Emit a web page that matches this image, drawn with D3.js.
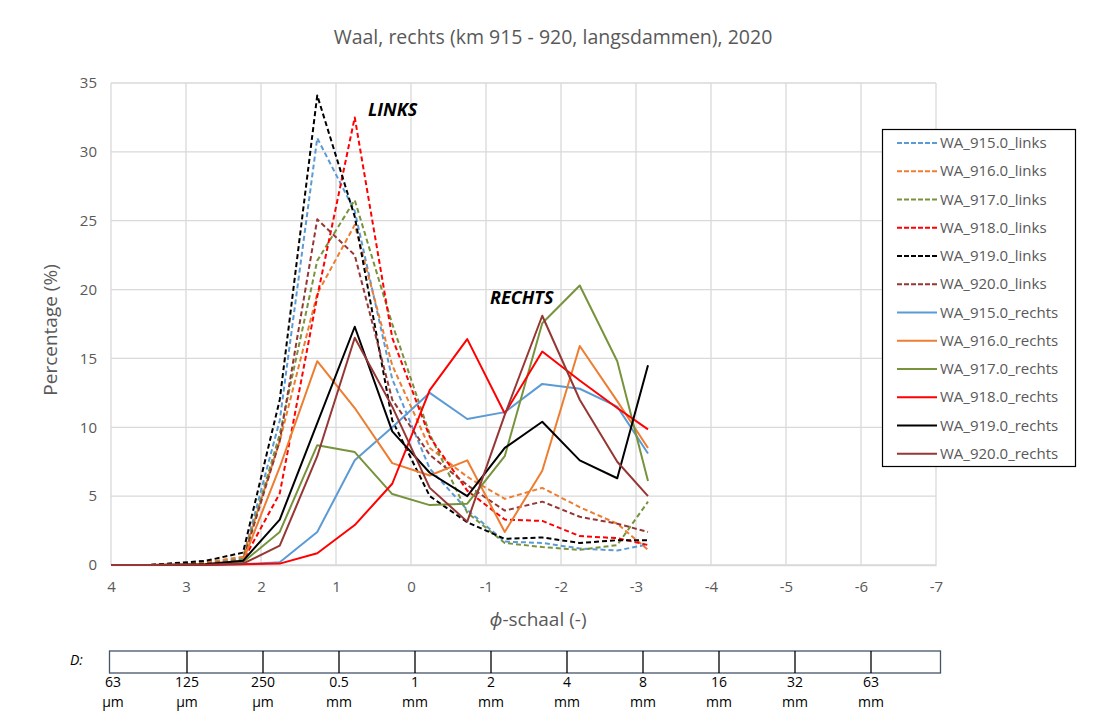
<!DOCTYPE html>
<html><head><meta charset="utf-8">
<script src="https://cdn.jsdelivr.net/npm/d3@7"></script>
<style>body{margin:0;background:#fff}svg text{font-family:"Open Sans","Noto Sans",sans-serif}</style>
</head><body><svg id="c" width="1099" height="722"></svg>
<script>
const title = "Waal, rechts (km 915 - 920, langsdammen), 2020";
const phi = [4, 3.5, 2.74, 2.24, 1.75, 1.25, 0.75, 0.25, -0.25, -0.75, -1.25, -1.75, -2.25, -2.75, -3.16];
const seriesNames = ["WA_915.0_links","WA_916.0_links","WA_917.0_links","WA_918.0_links","WA_919.0_links","WA_920.0_links",
  "WA_915.0_rechts","WA_916.0_rechts","WA_917.0_rechts","WA_918.0_rechts","WA_919.0_rechts","WA_920.0_rechts"];
const colors = ["#5B9BD5","#ED7D31","#77933C","#FF0000","#000000","#953735"];
const l915 = [0, 0, 0.15, 0.5, 10.5, 31.0, 25.7, 13.5, 7.0, 4.0, 1.7, 1.6, 1.2, 1.05, 1.5];
const l916 = [0, 0, 0.2, 0.6, 9.0, 19.7, 24.7, 14.5, 8.5, 6.4, 4.8, 5.6, 4.2, 3.0, 1.1];
const l917 = [0, 0, 0.1, 0.4, 9.5, 22.1, 26.5, 17.5, 9.5, 3.8, 1.6, 1.3, 1.1, 1.45, 4.6];
const l918 = [0, 0, 0.05, 0.3, 5.2, 19.5, 32.5, 16.5, 9.3, 5.4, 3.3, 3.2, 2.1, 1.95, 1.45];
const l919 = [0, 0, 0.3, 0.9, 12.0, 34.1, 25.3, 10.5, 5.0, 3.1, 1.9, 2.0, 1.6, 1.8, 1.8];
const l920 = [0, 0, 0.1, 0.3, 9.0, 25.1, 22.5, 12.0, 8.0, 5.8, 3.95, 4.6, 3.5, 3.0, 2.4];
const r915 = [0, 0, 0, 0.05, 0.2, 2.4, 7.6, 10.0, 12.5, 10.6, 11.1, 13.15, 12.8, 11.5, 8.1];
const r916 = [0, 0, 0.05, 0.3, 7.1, 14.8, 11.4, 7.4, 6.5, 7.6, 2.4, 6.85, 15.9, 11.9, 8.5];
const r917 = [0, 0, 0.02, 0.2, 2.4, 8.7, 8.2, 5.15, 4.35, 4.45, 7.9, 17.55, 20.3, 14.8, 6.1];
const r918 = [0, 0, 0, 0.05, 0.1, 0.85, 2.9, 5.9, 12.7, 16.4, 11.0, 15.5, 13.4, 11.4, 9.85];
const r919 = [0, 0, 0.05, 0.3, 3.3, 10.3, 17.3, 9.7, 6.7, 5.0, 8.5, 10.4, 7.6, 6.3, 14.5];
const r920 = [0, 0, 0.02, 0.1, 1.4, 7.9, 16.5, 11.5, 5.6, 3.15, 10.9, 18.1, 12.0, 7.5, 5.0];
const xTicks = [4,3,2,1,0,-1,-2,-3,-4,-5,-6,-7];
const yTicks = [0,5,10,15,20,25,30,35];
const dNums = ["63","125","250","0.5","1","2","4","8","16","32","63"];
const dUnits = ["µm","µm","µm","mm","mm","mm","mm","mm","mm","mm","mm"];

const values = [l915,l916,l917,l918,l919,l920,r915,r916,r917,r918,r919,r920];
const svg = d3.select("#c");
const x = d3.scaleLinear().domain([4,-7]).range([111,936]);
const y = d3.scaleLinear().domain([0,35]).range([565,83]);
const grid = "#D9D9D9", txt = "#595959";

// gridlines
svg.append("g").selectAll("line.h").data(yTicks).join("line")
  .attr("x1",x(4)).attr("x2",x(-7)).attr("y1",d=>y(d)).attr("y2",d=>y(d))
  .attr("stroke",grid).attr("stroke-width",1.3);
svg.append("g").selectAll("line.v").data(xTicks).join("line")
  .attr("y1",y(0)).attr("y2",y(35)).attr("x1",d=>x(d)).attr("x2",d=>x(d))
  .attr("stroke",grid).attr("stroke-width",1.3);

// axes via d3
const ax = svg.append("g").attr("transform",`translate(0,${y(0)})`)
  .call(d3.axisBottom(x).tickValues(xTicks).tickSize(0).tickPadding(16).tickFormat(d=>d<0?"-"+Math.abs(d):d));
ax.select(".domain").attr("stroke",grid).attr("stroke-width",1.3);
ax.selectAll("text").attr("fill",txt).style("font-size","15px");
const ay = svg.append("g").attr("transform",`translate(${x(4)},0)`)
  .call(d3.axisLeft(y).tickValues(yTicks).tickSize(0).tickPadding(14));
ay.select(".domain").remove();
ay.selectAll("text").attr("fill",txt).style("font-size","15px");

// lines
const line = d3.line().x((d,i)=>x(phi[i])).y(d=>y(d));
values.forEach((v,k)=>{
  svg.append("path").datum(v).attr("d",line).attr("fill","none")
    .attr("stroke",colors[k%6]).attr("stroke-width",2)
    .attr("stroke-dasharray",k<6?"5,3":null).attr("stroke-linejoin","round");
});

// title and labels
svg.append("text").attr("x",553).attr("y",44).attr("text-anchor","middle")
  .attr("fill",txt).style("font-size","19.5px").text(title);
svg.append("text").attr("transform","translate(57,330) rotate(-90)").attr("text-anchor","middle")
  .attr("fill",txt).style("font-size","19px").text("Percentage (%)");
const xl = svg.append("text").attr("x",538).attr("y",626).attr("text-anchor","middle")
  .attr("fill",txt).style("font-size","19px");
xl.append("tspan").attr("font-style","italic").text("ϕ");
xl.append("tspan").text("-schaal (-)");
svg.append("text").attr("x",368).attr("y",116).attr("font-weight","bold").attr("font-style","italic")
  .style("font-size","18px").attr("fill","#000").text("LINKS");
svg.append("text").attr("x",490).attr("y",304).attr("font-weight","bold").attr("font-style","italic")
  .style("font-size","18px").attr("fill","#000").text("RECHTS");

// legend
const lg = svg.append("g");
lg.append("rect").attr("x",882.5).attr("y",129.5).attr("width",193).attr("height",337)
  .attr("fill","#fff").attr("stroke","#000").attr("stroke-width",1.2);
seriesNames.forEach((n,k)=>{
  const yy = 143 + k*28.25;
  lg.append("line").attr("x1",897).attr("x2",937).attr("y1",yy).attr("y2",yy)
    .attr("stroke",colors[k%6]).attr("stroke-width",2).attr("stroke-dasharray",k<6?"5,2":null);
  lg.append("text").attr("x",940).attr("y",yy+5).attr("fill",txt).style("font-size","15px").text(n);
});

// D scale bar
const dx = d3.scaleLinear().domain([0,10]).range([111,871]);
svg.append("text").attr("x",70).attr("y",665).attr("font-style","italic").style("font-size","14px").attr("fill","#000").text("D:");
svg.append("rect").attr("x",109.5).attr("y",651).attr("width",831).attr("height",22)
  .attr("fill","none").attr("stroke","#44546A").attr("stroke-width",1.3);
svg.append("g").selectAll("line").data(dNums.slice(1)).join("line")
  .attr("x1",(d,i)=>dx(i+1)).attr("x2",(d,i)=>dx(i+1)).attr("y1",651).attr("y2",673)
  .attr("stroke","#000").attr("stroke-width",1.3);
svg.append("g").selectAll("text").data(dNums).join("text")
  .attr("x",(d,i)=>dx(i)+(i===0?2:0)).attr("y",687).attr("text-anchor","middle")
  .style("font-size","14px").attr("fill","#000").text(d=>d);
svg.append("g").selectAll("text").data(dUnits).join("text")
  .attr("x",(d,i)=>dx(i)+(i===0?2:0)).attr("y",707).attr("text-anchor","middle")
  .style("font-size","14px").attr("fill","#000").text(d=>d);
</script></body></html>
